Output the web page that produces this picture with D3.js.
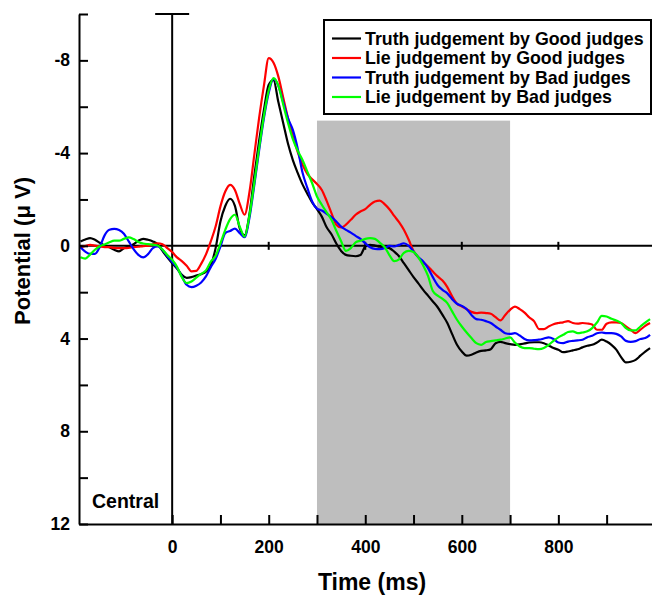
<!DOCTYPE html>
<html>
<head>
<meta charset="utf-8">
<title>ERP Central</title>
<style>
  body { margin: 0; background: #fff; }
  text { font-family: "Liberation Sans", Arial, Helvetica, sans-serif; font-weight: bold; fill: #000; }
</style>
</head>
<body>
<script src="https://d3js.org/d3.v7.min.js"></script>
<script>
// sample times (ms), 10 ms steps
var times = [-190,-180,-170,-160,-150,-140,-130,-120,-110,-100,-90,-80,-70,-60,-50,-40,-30,-20,-10,
  0,10,20,30,40,50,60,70,80,90,100,110,120,130,140,150,160,170,180,190,200,210,220,230,240,250,
  260,270,280,290,300,310,320,330,340,350,360,370,380,390,400,410,420,430,440,450,460,470,480,490,
  500,510,520,530,540,550,560,570,580,590,600,610,620,630,640,650,660,670,680,690,700,710,720,730,
  740,750,760,770,780,790,800,810,820,830,840,850,860,870,880,890,900,910,920,930,940,950,960,970,980,990];

// potentials (microvolt)
var truthGood = [-0.19,-0.27,-0.33,-0.26,-0.13,-0.01,0.06,0.17,0.24,0.1,0.04,-0.07,-0.22,-0.3,-0.26,-0.19,-0.07,0.22,0.5,
  0.75,0.98,1.25,1.38,1.35,1.28,1.22,1.12,0.85,0.1,-1.05,-1.72,-2.03,-1.72,-0.75,-0.45,-1.35,-3.0,-4.5,-5.85,-6.95,-7.15,-6.2,-5.3,-4.4,-3.7,
  -3.15,-2.65,-2.25,-1.87,-1.58,-1.26,-0.8,-0.5,-0.1,0.22,0.39,0.43,0.45,0.4,0.03,-0.04,-0.01,0.04,0.06,0.1,0.25,0.45,0.75,1.05,
  1.35,1.62,1.9,2.15,2.4,2.65,2.98,3.33,3.81,4.27,4.56,4.74,4.7,4.6,4.53,4.51,4.46,4.2,4.14,4.2,4.24,4.27,4.25,4.21,
  4.17,4.16,4.16,4.2,4.3,4.41,4.48,4.59,4.56,4.51,4.46,4.38,4.31,4.27,4.17,4.05,4.13,4.27,4.48,4.8,5.03,5.0,4.92,4.74,4.56,4.41];

var lieGood = [0.06,0.01,-0.04,-0.01,0.03,0.06,0.06,0.09,0.1,0.1,0.09,0.06,0.04,0.01,0,-0.07,-0.11,-0.07,0.1,
  0.27,0.5,0.66,0.86,1.1,1.08,0.78,0.37,-0.19,-0.83,-1.7,-2.34,-2.63,-2.41,-1.81,-1.34,-2.3,-3.9,-5.5,-6.9,-8.1,-7.9,-7.3,-6.4,-5.5,-4.75,
  -4.05,-3.5,-3.1,-2.87,-2.67,-2.41,-1.94,-1.41,-0.91,-0.79,-0.91,-1.12,-1.34,-1.48,-1.58,-1.77,-1.91,-1.95,-1.8,-1.58,-1.29,-1.02,-0.69,-0.26,
  0.22,0.5,0.72,0.89,1.11,1.32,1.5,1.78,2.18,2.5,2.62,2.73,2.85,2.9,2.88,2.9,2.93,3.08,3.22,2.98,2.76,2.62,2.73,2.88,
  3.09,3.26,3.59,3.59,3.48,3.38,3.33,3.3,3.25,3.33,3.36,3.33,3.35,3.39,3.62,3.62,3.36,3.3,3.3,3.33,3.48,3.62,3.77,3.62,3.45,3.33];

var truthBad = [0.06,0.25,0.35,0.35,0.05,-0.45,-0.69,-0.73,-0.68,-0.52,-0.19,0.14,0.39,0.5,0.36,0.1,0.03,0.17,0.45,
  0.7,0.95,1.32,1.68,1.78,1.72,1.58,1.32,0.92,0.57,0.03,-0.55,-0.64,-0.74,-0.55,-0.37,-1.2,-2.6,-4.1,-5.5,-6.6,-7.2,-6.9,-6.2,-5.5,-5.0,
  -4.2,-3.16,-2.5,-1.91,-1.6,-1.52,-1.38,-1.24,-1.05,-0.83,-0.69,-0.57,-0.43,-0.3,-0.11,0.06,0.13,0.14,0.1,0,0.03,-0.04,-0.11,0,
  0.24,0.49,0.68,0.96,1.35,1.7,1.9,2.05,2.3,2.5,2.59,2.73,2.98,3.16,3.19,3.25,3.33,3.48,3.62,3.77,3.8,3.77,3.87,4.02,
  4.08,4.07,4.05,4.0,3.95,4.02,4.17,4.2,4.13,4.1,4.08,4.05,3.94,3.88,3.77,3.74,3.77,3.77,3.8,3.91,4.1,4.14,4.11,4.02,3.98,3.84];

var lieBad = [0.49,0.55,0.38,0.17,0.02,-0.06,-0.15,-0.22,-0.22,-0.3,-0.36,-0.29,-0.17,-0.1,-0.07,-0.05,-0.01,0.16,0.4,
  0.6,0.9,1.35,1.61,1.54,1.37,1.21,1.06,0.68,0.43,-0.11,-0.69,-1.15,-1.34,-0.83,-0.4,-1.3,-2.7,-4.2,-5.6,-6.7,-7.23,-6.9,-6.1,-5.3,-4.6,
  -4.1,-3.7,-3.2,-2.7,-2.13,-1.77,-1.44,-1.12,-0.65,-0.2,0.22,0.1,-0.15,-0.22,-0.3,-0.33,-0.3,-0.14,0.05,0.4,0.66,0.58,0.3,0.22,
  0.27,0.5,0.85,1.3,1.95,2.15,2.29,2.47,2.83,3.19,3.48,3.74,3.98,4.2,4.27,4.15,4.11,4.08,4.05,4.0,3.95,4.17,4.34,4.41,
  4.41,4.44,4.46,4.41,4.27,4.1,3.95,3.84,3.72,3.69,3.77,3.74,3.69,3.55,3.31,3.02,3.05,3.15,3.22,3.33,3.55,3.65,3.65,3.48,3.31,3.16];

var seriesNames = ["Truth judgement by Good judges", "Lie judgement by Good judges",
                   "Truth judgement by Bad judges", "Lie judgement by Bad judges"];
var seriesValues = [truthGood, lieGood, truthBad, lieBad];
var seriesColors = ["#000000", "#ff0000", "#0000ff", "#00ff00"];

var yTicks = [-10,-8,-6,-4,-2,0,2,4,6,8,10,12];
var yLabels = [-8,-4,0,4,8,12];
var xTicks = [100,200,300,400,500,600,700,800,900];
var xLabels = [0,200,400,600,800];
var zeroTicks = [200,400,600,800];
var windowMs = [300, 700];   // shaded analysis window
var windowTop = -5.4;

var W = 652, H = 599;
var plotL = 79, plotR = 652, plotT = 14, plotB = 524;

var x = d3.scaleLinear().domain([-193, 994]).range([plotL, plotR]);
var y = d3.scaleLinear().domain([-10, 12]).range([plotT, plotB]);   // negative up

var svg = d3.select("body").append("svg")
    .attr("width", W)
    .attr("height", H);

svg.append("defs").append("clipPath").attr("id", "plot")
  .append("rect")
    .attr("x", plotL).attr("y", plotT)
    .attr("width", plotR - plotL).attr("height", plotB - plotT);

// shaded window
svg.append("rect")
    .attr("x", x(windowMs[0]))
    .attr("y", y(windowTop))
    .attr("width", x(windowMs[1]) - x(windowMs[0]))
    .attr("height", y(12) - y(windowTop))
    .style("fill", "#bebebe");

// zero lines
svg.append("line")
    .attr("x1", plotL).attr("x2", plotR)
    .attr("y1", y(0)).attr("y2", y(0))
    .style("stroke", "#000").style("stroke-width", 2);

svg.selectAll(".ztick").data(zeroTicks).enter().append("line")
    .attr("class", "ztick")
    .attr("x1", function(d){ return x(d); }).attr("x2", function(d){ return x(d); })
    .attr("y1", y(0) - 4).attr("y2", y(0) + 4)
    .style("stroke", "#000").style("stroke-width", 2);

svg.append("line")
    .attr("x1", x(0)).attr("x2", x(0))
    .attr("y1", plotT).attr("y2", plotB)
    .style("stroke", "#000").style("stroke-width", 2);

svg.append("line")
    .attr("x1", x(0) - 17).attr("x2", x(0) + 17)
    .attr("y1", plotT).attr("y2", plotT)
    .style("stroke", "#000").style("stroke-width", 2);

// curves
var line = d3.line()
    .x(function(d){ return x(d[0]); })
    .y(function(d){ return y(d[1]); })
    .curve(d3.curveMonotoneX);

var curves = svg.append("g").attr("clip-path", "url(#plot)");
seriesValues.forEach(function(vals, i) {
  curves.append("path")
      .datum(times.map(function(t, k){ return [t, vals[k]]; }))
      .attr("d", line)
      .style("fill", "none")
      .style("stroke", seriesColors[i])
      .style("stroke-width", 2.2)
      .style("stroke-linejoin", "round");
});

// axes
var yAxis = svg.append("g")
    .attr("transform", "translate(" + plotL + ",0)")
    .call(d3.axisLeft(y)
      .tickValues(yTicks)
      .tickSize(-9)
      .tickSizeOuter(0)
      .tickPadding(9)
      .tickFormat(function(d){ return yLabels.indexOf(d) >= 0 ? String(d) : ""; }));

var xAxis = svg.append("g")
    .attr("transform", "translate(0," + plotB + ")")
    .call(d3.axisBottom(x)
      .tickValues([0].concat(xTicks))
      .tickSize(-9)
      .tickSizeOuter(0)
      .tickPadding(17)
      .tickFormat(function(d){ return xLabels.indexOf(d) >= 0 ? String(d) : ""; }));

[yAxis, xAxis].forEach(function(a) {
  a.select(".domain").style("stroke-width", 2);
  a.selectAll(".tick line").style("stroke-width", 2);
  a.selectAll(".tick text")
      .style("font-family", "'Liberation Sans', Arial, sans-serif")
      .style("font-weight", "bold")
      .style("font-size", "17.5px");
});

// titles
svg.append("text")
    .attr("transform", "translate(30," + 251 + ") rotate(-90)")
    .attr("text-anchor", "middle")
    .style("font-size", "22px")
    .text("Potential (\u03bc V)");

svg.append("text")
    .attr("x", 372).attr("y", 590)
    .attr("text-anchor", "middle")
    .style("font-size", "23px")
    .text("Time (ms)");

svg.append("text")
    .attr("x", 92).attr("y", 508)
    .style("font-size", "19.5px")
    .text("Central");

// legend
var legend = svg.append("g");
legend.append("rect")
    .attr("x", 324).attr("y", 20)
    .attr("width", 327).attr("height", 94)
    .style("fill", "#fff")
    .style("stroke", "#000")
    .style("stroke-width", 2);

seriesNames.forEach(function(name, i) {
  var ly = 38.5 + i * 19.5;
  legend.append("line")
      .attr("x1", 332).attr("x2", 361)
      .attr("y1", ly).attr("y2", ly)
      .style("stroke", seriesColors[i])
      .style("stroke-width", 2.2);
  legend.append("text")
      .attr("x", 365).attr("y", ly + 6)
      .style("font-size", "17.8px")
      .text(name);
});
</script>
</body>
</html>
